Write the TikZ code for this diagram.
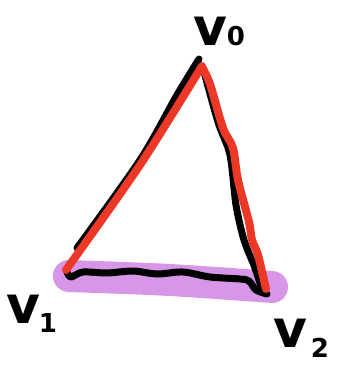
\documentclass[tikz,border=0pt]{standalone}
\usepackage{fontspec}
\setmainfont{DejaVu Sans}
\definecolor{penred}{RGB}{236,56,38}
\definecolor{hlpurple}{RGB}{216,150,232}
\begin{document}
\begin{tikzpicture}[x=1pt,y=-1pt,
  ink/.style={line width=7pt,line cap=round,line join=round,black},
  redpen/.style={line width=8pt,line cap=round,line join=round,penred},
  marker/.style={line width=32pt,line cap=round,line join=round,hlpurple},
  lbl/.style={inner sep=0pt,font=\bfseries\fontsize{52}{52}\selectfont},
  sub/.style={inner sep=0pt,font=\bfseries\fontsize{26}{26}\selectfont}]
\useasboundingbox (0,0) rectangle (356,365);
% highlight of the bottom edge
\draw[marker] plot[smooth] coordinates {(69,276) (170,280) (272,287)};
% black triangle
\draw[ink] plot[smooth] coordinates {(77,248) (140,160) (177,95) (199,59)};
\draw[ink] plot[smooth] coordinates {(203,68) (218,122) (230,155) (236,205) (244,240) (255,268) (262,290)};
\draw[ink] plot[smooth] coordinates {(67,272) (71,277) (83,272) (107,273) (133,271) (157,274) (183,272) (210,277) (240,279) (249,281) (256,290) (267,294)};
% red strokes
\draw[redpen] plot[smooth] coordinates {(66,270) (140,165) (202,66)};
\draw[redpen] plot[smooth] coordinates {(202,67) (210,84) (223,128) (233,148) (238,180) (249,222) (252,240) (258,255) (266,289)};
% labels
\node[lbl,anchor=base] (v0) at (210,45) {v};
\node[sub,anchor=base] (s0) at (236,45) {0};
\node[lbl,anchor=base] (v1) at (23,323) {v};
\node[sub,anchor=base] (s1) at (48,332) {1};
\node[lbl,anchor=base] (v2) at (290,347) {v};
\node[sub,anchor=base] (s2) at (320,357) {2};
\end{tikzpicture}
\end{document}
